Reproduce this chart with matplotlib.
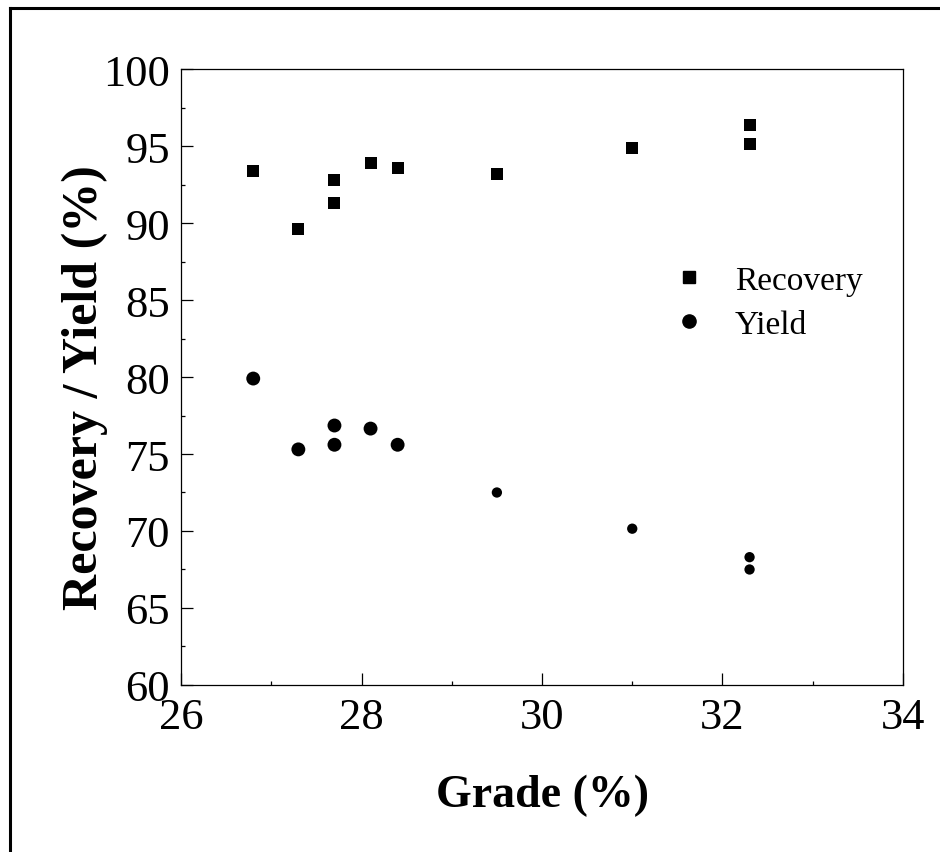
import matplotlib
matplotlib.use('Agg')
import matplotlib.pyplot as plt
from matplotlib.lines import Line2D
from matplotlib.ticker import MultipleLocator

# data
grade_rec = [26.8, 27.3, 27.7, 27.7, 28.1, 28.4, 29.5, 31.0, 32.3, 32.3]
recovery = [93.35, 89.6, 92.8, 91.3, 93.9, 93.6, 93.2, 94.85, 96.35, 95.1]

grade_yld = [26.8, 27.3, 27.7, 27.7, 28.1, 28.4, 29.5, 31.0, 32.3, 32.3]
yld = [79.9, 75.3, 76.85, 75.6, 76.65, 75.6, 72.5, 70.15, 68.3, 67.5]

# the last points of the yield series are drawn smaller in the original
yld_sizes = [100, 100, 100, 100, 100, 100, 55, 55, 55, 55]

plt.rcParams['font.family'] = ['Liberation Serif', 'DejaVu Serif']

fig = plt.figure(figsize=(9.4, 8.53), dpi=100)
ax = fig.add_axes([0.1926, 0.1958, 0.768, 0.7221])

ax.scatter(grade_rec, recovery, marker='s', s=70, color='black', linewidths=0)
ax.scatter(grade_yld, yld, marker='o', s=yld_sizes, color='black', linewidths=0)

ax.set_xlim(26, 34)
ax.set_ylim(60, 100)
ax.xaxis.set_major_locator(MultipleLocator(2))
ax.xaxis.set_minor_locator(MultipleLocator(1))
ax.yaxis.set_major_locator(MultipleLocator(5))
ax.yaxis.set_minor_locator(MultipleLocator(2.5))

ax.tick_params(which='both', direction='in', top=False, right=False, width=0.9)
ax.tick_params(which='major', length=8.5, labelsize=32)
ax.tick_params(axis='y', which='major', pad=8)
ax.tick_params(axis='x', which='major', pad=9)
ax.tick_params(which='minor', length=3)
for sp in ax.spines.values():
    sp.set_linewidth(0.9)

ax.set_xlabel('Grade (%)', fontsize=33, fontweight='bold', labelpad=26)
ax.set_ylabel('Recovery / Yield (%)', fontsize=36, fontweight='bold')
ax.yaxis.set_label_coords(-0.101, 0.485)

handles = [
    Line2D([], [], marker='s', linestyle='none', color='black', markersize=8.5),
    Line2D([], [], marker='o', linestyle='none', color='black', markersize=9.5),
]
ax.legend(handles, ['Recovery', 'Yield'], loc='upper left',
          bbox_to_anchor=(0.634, 0.73), frameon=False, fontsize=24,
          handletextpad=0.78, labelspacing=0.4, handlelength=1.2)

# partial outer frame (left and top only, as in the reference)
fig.add_artist(Line2D([0.0106, 0.0106], [0, 0.9894], color='black', linewidth=2.2,
                      transform=fig.transFigure))
fig.add_artist(Line2D([0.0106, 1.0], [0.9894, 0.9894], color='black', linewidth=2.2,
                      transform=fig.transFigure))

fig.savefig('out.png', dpi=100)
